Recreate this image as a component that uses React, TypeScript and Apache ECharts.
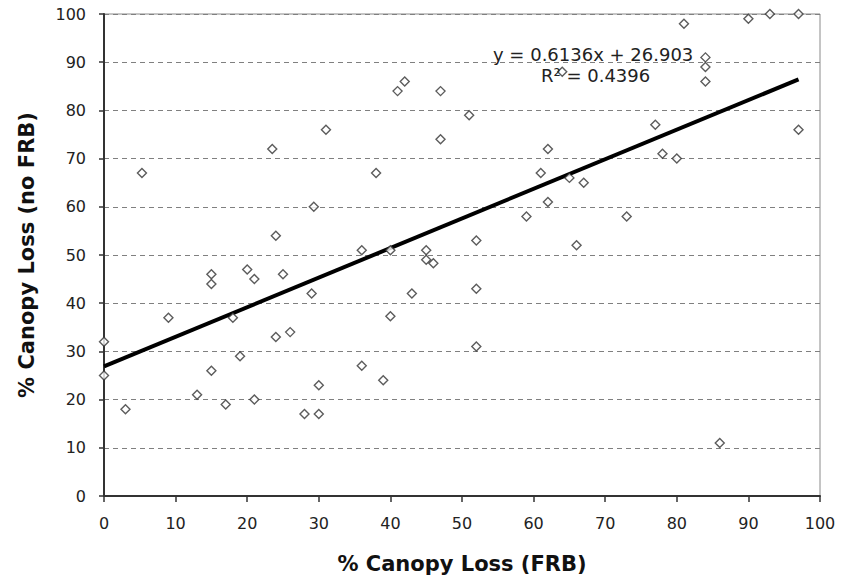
import React, { useEffect, useRef } from "react";
import * as echarts from "echarts";

const frbLoss: number[] = [
  0, 0, 3, 5.3, 9, 13, 15, 15, 15, 17, 18, 19, 20, 21, 21, 23.5, 24, 24, 25, 26,
  28, 29, 29.3, 30, 30, 31, 36, 36, 38, 39, 40, 40, 41, 42, 43, 45, 45, 46, 47, 47,
  51, 52, 52, 52, 59, 61, 62, 62, 64, 65, 66, 67, 73, 77, 78, 80, 81, 84, 84, 84,
  86, 90, 93, 97, 97,
];
const noFrbLoss: number[] = [
  32, 25, 18, 67, 37, 21, 46, 44, 26, 19, 37, 29, 47, 45, 20, 72, 54, 33, 46, 34,
  17, 42, 60, 23, 17, 76, 51, 27, 67, 24, 51, 37.3, 84, 86, 42, 51, 49, 48.3, 84, 74,
  79, 53, 43, 31, 58, 67, 72, 61, 88, 66, 52, 65, 58, 77, 71, 70, 98, 91, 89, 86,
  11, 99, 100, 100, 76,
];
const slope = 0.6136;
const intercept = 26.903;
const rSquared = 0.4396;
const trendRange: number[] = [0, 97];
const xTicks: number[] = [0, 10, 20, 30, 40, 50, 60, 70, 80, 90, 100];

export default function App() {
  const ref = useRef<HTMLDivElement>(null);
  useEffect(() => {
    document.body.style.margin = "0";
    if (!ref.current) return;
    const chart = echarts.init(ref.current, null, { renderer: "svg" });
    const points = frbLoss.map((x, i) => [x, noFrbLoss[i]]);
    const trend = trendRange.map((x) => [x, slope * x + intercept]);
    chart.setOption({
      animation: false,
      backgroundColor: "#ffffff",
      grid: {
        left: 104,
        right: 21,
        top: 14,
        bottom: 80,
        show: true,
        borderColor: "#8a8a8a",
        borderWidth: 1,
        containLabel: false,
        outerBoundsMode: "none",
      },
      xAxis: {
        type: "value",
        min: xTicks[0],
        max: xTicks[xTicks.length - 1],
        interval: 10,
        name: "% Canopy Loss (FRB)",
        nameLocation: "middle",
        nameGap: 57,
        nameTextStyle: { fontFamily: "DejaVu Sans", fontWeight: "bold", fontSize: 21, color: "#111" },
        axisLine: { show: true, lineStyle: { color: "#333", width: 2 } },
        axisTick: { show: true, length: 6, lineStyle: { color: "#333", width: 1.5 } },
        axisLabel: { fontFamily: "DejaVu Sans", fontSize: 16, color: "#222", margin: 19 },
        splitLine: { show: false },
      },
      yAxis: {
        type: "value",
        min: 0,
        max: 100,
        interval: 10,
        name: "% Canopy Loss (no FRB)",
        nameLocation: "middle",
        nameGap: 67,
        nameTextStyle: { fontFamily: "DejaVu Sans", fontWeight: "bold", fontSize: 21, color: "#111" },
        axisLine: { show: true, lineStyle: { color: "#333", width: 2 } },
        axisTick: { show: true, length: 5, lineStyle: { color: "#333", width: 1.5 } },
        axisLabel: { fontFamily: "DejaVu Sans", fontSize: 16, color: "#222", margin: 18 },
        splitLine: { show: true, lineStyle: { color: "#808080", type: [5, 4], width: 1.2 } },
      },
      series: [
        {
          type: "line",
          data: trend,
          symbol: "none",
          lineStyle: { color: "#000", width: 4 },
          z: 2,
        },
        {
          type: "scatter",
          data: points,
          symbol: "diamond",
          symbolSize: 9,
          itemStyle: { color: "#ffffff", borderColor: "#333", borderWidth: 1.4 },
          z: 3,
        },
      ],
      graphic: [
        {
          type: "text",
          left: 493,
          top: 45,
          z: 10,
          style: {
            text: `y = ${slope}x + ${intercept}`,
            fontFamily: "DejaVu Sans",
            fontSize: 18,
            fill: "#222",
          },
        },
        {
          type: "text",
          left: 541,
          top: 66,
          z: 10,
          style: {
            text: `R² = ${rSquared}`,
            fontFamily: "DejaVu Sans",
            fontSize: 18,
            fill: "#222",
          },
        },
      ],
    });
    return () => chart.dispose();
  }, []);
  return <div ref={ref} style={{ width: 841, height: 576 }} />;
}
